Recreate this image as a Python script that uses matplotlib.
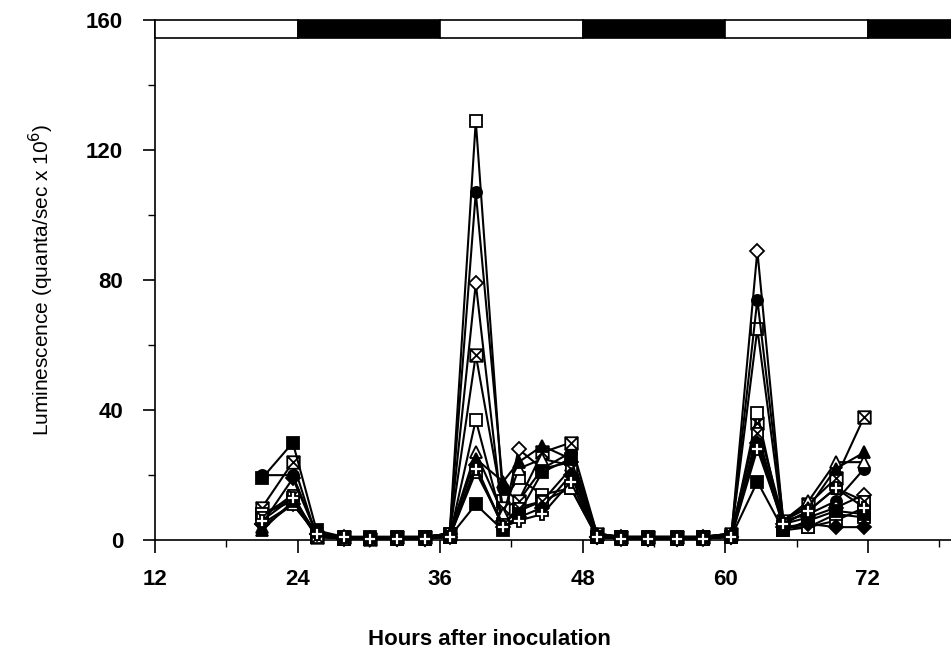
import numpy as np
import matplotlib
matplotlib.use("Agg")
import matplotlib.pyplot as plt
from matplotlib.path import Path

# sampling times (hours after inoculation)
hours = [21.0, 23.6, 25.6, 27.9, 30.1, 32.4, 34.7, 36.8, 39.0, 41.3, 42.6, 44.6,
         47.0, 49.2, 51.2, 53.5, 55.9, 58.1, 60.5, 62.7, 64.9, 67.0, 69.3, 71.7]

# luminescence per plant (quanta/sec x 10^6)
open_sq_a = [8, 12, 1, 0.5, 0.5, 0.5, 1, 2, 129, 12, 19, 14, 16, 1, 1, 0.5, 0.5, 1, 1, 65, 4, 4, 6, 10]
filled_circle = [20, 20, 2, 1, 0.5, 0.5, 1, 2, 107, 16, 12, 22, 27, 2, 1, 1, 1, 1, 2, 74, 6, 8, 12, 22]
open_diamond = [5, 11, 2, 0.5, 0.5, 0.5, 0.5, 2, 79, 6, 28, 22, 24, 1, 1, 0.5, 0.5, 1, 1, 89, 5, 7, 10, 14]
crossed_sq_a = [10, 24, 1, 1, 0.5, 1, 1, 2, 57, 10, 12, 27, 30, 2, 1, 1, 1, 1, 2, 36, 6, 11, 19, 38]
open_sq_b = [8, 13, 1, 0.5, 0.5, 0.5, 0.5, 1, 37, 5, 9, 12, 16, 1, 0.5, 0.5, 0.5, 0.5, 1, 39, 3, 4, 8, 7]
open_tri = [4, 11, 2, 1, 1, 1, 1, 2, 27, 8, 22, 25, 23, 2, 1, 1, 1, 1, 2, 31, 6, 12, 24, 24]
filled_tri = [3, 12, 2, 1, 1, 1, 1, 2, 25, 18, 24, 29, 25, 2, 1, 1, 1, 1, 2, 29, 6, 10, 22, 27]
crossed_sq_b = [7, 14, 1, 0.5, 0.5, 0.5, 0.5, 1, 21, 5, 10, 12, 22, 1, 0.5, 0.5, 0.5, 0.5, 1, 33, 5, 9, 16, 12]
filled_sq = [19, 30, 3, 1, 1, 1, 1, 1, 11, 3, 8, 21, 25, 1, 1, 1, 1, 1, 1, 18, 3, 6, 9, 8]
filled_diamond = [5, 19, 2, 1, 0.5, 0.5, 0.5, 1, 23, 4, 7, 10, 20, 1, 0.5, 0.5, 0.5, 0.5, 1, 30, 4, 5, 4, 4]
plus_series = [6, 13, 2, 1, 0.5, 0.5, 0.5, 1, 22, 4, 6, 8, 18, 1, 0.5, 0.5, 0.5, 0.5, 1, 28, 5, 9, 16, 10]

# light / dark schedule bar at the top
phase_start = [12, 24, 36, 48, 60, 72]
phase_end = [24, 36, 48, 60, 72, 79]
phase_dark = [False, True, False, True, False, True]

x_ticks = [12, 24, 36, 48, 60, 72]
y_ticks = [0, 40, 80, 120, 160]

# boxed-x marker
crossed = Path(
    [(-1, -1), (1, -1), (1, 1), (-1, 1), (-1, -1), (-1, -1), (1, 1), (-1, 1), (1, -1)],
    [Path.MOVETO, Path.LINETO, Path.LINETO, Path.LINETO, Path.CLOSEPOLY,
     Path.MOVETO, Path.LINETO, Path.MOVETO, Path.LINETO],
)

series = [
    (open_sq_a, "s", "white", 8),
    (filled_circle, "o", "black", 8),
    (open_diamond, "D", "white", 7),
    (crossed_sq_a, crossed, "white", 9),
    (open_sq_b, "s", "white", 8),
    (open_tri, "^", "white", 8),
    (filled_tri, "^", "black", 8),
    (crossed_sq_b, crossed, "white", 8),
    (filled_sq, "s", "black", 8),
    (filled_diamond, "D", "black", 7),
    (plus_series, "P", "white", 8),
]

plt.rcParams["font.family"] = ["Liberation Sans", "DejaVu Sans"]

fig = plt.figure(figsize=(9.51, 6.5), dpi=100)
ax = fig.add_axes([0.163, 0.169, 0.837, 0.8])

for values, marker, face, size in series:
    ax.plot(hours, values, color="black", lw=1.5, marker=marker, ms=size,
            mfc=face, mec="black", mew=1.3, clip_on=False, zorder=3)

# light/dark bar
widths = [e - s for s, e in zip(phase_start, phase_end)]
colors = ["black" if d else "white" for d in phase_dark]
ax.bar(phase_start, 5.5, width=widths, bottom=154.5, align="edge",
       color=colors, edgecolor="black", linewidth=1.2, clip_on=False, zorder=4)

ax.set_xlim(12, 79)
ax.set_ylim(0, 160)
ax.spines["top"].set_visible(False)
ax.spines["right"].set_visible(False)
ax.spines["left"].set_linewidth(1.2)
ax.spines["bottom"].set_linewidth(1.2)

ax.set_xticks(x_ticks)
ax.set_xticks(np.arange(12, 79, 6), minor=True)
ax.set_yticks(y_ticks)
ax.set_yticks(np.arange(0, 161, 20), minor=True)
ax.tick_params(axis="both", which="major", direction="out", length=9, width=1.2,
               labelsize=16)
ax.tick_params(axis="both", which="minor", direction="out", length=5, width=1.0)
ax.tick_params(axis="x", which="major", pad=12)
ax.tick_params(axis="y", which="major", pad=14)
for lab in ax.get_xticklabels() + ax.get_yticklabels():
    lab.set_fontweight("bold")

ax.set_xlabel("Hours after inoculation", fontsize=16, fontweight="bold")
ax.xaxis.set_label_coords(0.42, -0.17)
ax.set_ylabel("Luminescence (quanta/sec x 10$^6$)", fontsize=15)
ax.yaxis.set_label_coords(-0.125, 0.5)

fig.savefig("out.png", dpi=100)
